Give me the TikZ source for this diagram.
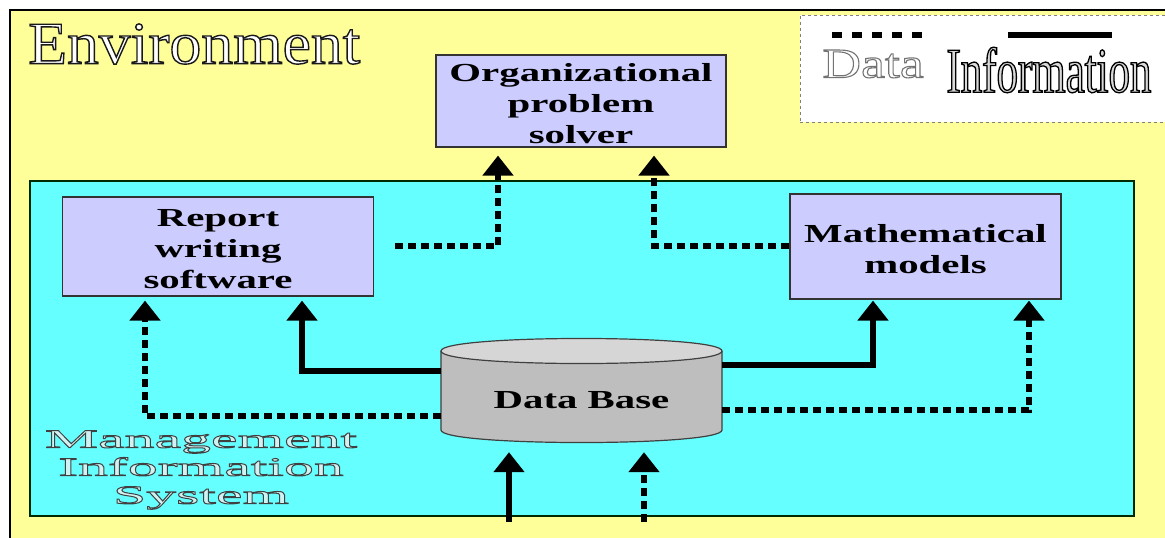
\documentclass[tikz,border=0pt]{standalone}
\usepackage{fontspec}
\usetikzlibrary{arrows.meta}
\setmainfont{Liberation Serif}
\newfontfamily\boxfont[FakeStretch=1.57]{Liberation Serif}
\newfontfamily\envfont[FakeStretch=1.06]{Liberation Serif}
\newfontfamily\misfont[FakeStretch=2.3]{Liberation Serif}
\newfontfamily\datafont[FakeStretch=1.28]{Liberation Serif}
\newfontfamily\infofont[FakeStretch=0.67]{Liberation Serif}
\definecolor{envyellow}{HTML}{FFFF99}
\definecolor{miscyan}{HTML}{66FFFF}
\definecolor{boxlav}{HTML}{CCCCFF}
\definecolor{dbgray}{HTML}{BEBEBE}
\definecolor{dbtop}{HTML}{D6D6D6}
% outlined text: #1 stroke width, #2 stroke rgb, #3 fill rgb, #4 text
\newcommand{\outlinetxt}[4]{\special{pdf:literal direct 2 Tr #1 w #2 RG #3 rg}#4\special{pdf:literal direct 0 Tr 0 0 0 RG 0 0 0 rg}}
\tikzset{
  procbox/.style={draw=black!80, fill=boxlav, line width=1.2pt, inner sep=0pt},
  boxtext/.style={align=center, inner sep=0pt,
    font=\boxfont\bfseries\fontsize{26}{31}\selectfont},
  dataflow/.style={line width=6pt, dash pattern=on 8pt off 5pt,
    -{Triangle[length=20pt,width=30pt]}},
  infoflow/.style={line width=6pt, -{Triangle[length=20pt,width=30pt]}},
}
\begin{document}
\begin{tikzpicture}[x=1pt,y=-1pt]
\useasboundingbox (0,0) rectangle (1165,538);
\begin{scope}
\clip (0,0) rectangle (1165,538);
% environment
\draw[fill=envyellow, line width=1.5pt] (10,10) rectangle (1175,548);
% MIS box
\draw[fill=miscyan, draw=black!60!green!40!black, line width=1.5pt] (30,181) rectangle (1134,516);
% legend
\node (legend) [draw=gray, dashed, fill=white, line width=0.8pt, minimum width=372pt, minimum height=107pt, anchor=north west, inner sep=0pt] at (800,15) {};
\end{scope}

\node (env) [anchor=west, inner sep=0pt] at (28,44)
  {\envfont\fontsize{60}{60}\selectfont\outlinetxt{1.4}{0.1 0.1 0.1}{1 1 1}{Environment}};

\coordinate (ld1) at (832,35);
\coordinate (ld2) at (925,35);
\coordinate (li1) at (1008,35);
\coordinate (li2) at (1112,35);
\draw[line width=6pt, dash pattern=on 10pt off 10pt] (ld1) -- (ld2);
\draw[line width=6pt] (li1) -- (li2);
\node (datalbl) [inner sep=0pt] at (873,64)
  {\datafont\fontsize{42}{42}\selectfont\outlinetxt{1.1}{0.45 0.45 0.45}{1 1 1}{Data}};
\node (infolbl) [inner sep=0pt] at (1049,70)
  {\infofont\fontsize{64}{64}\selectfont\outlinetxt{1.3}{0 0 0}{0.85 0.85 0.85}{Information}};

% boxes
\node (org) [procbox, minimum width=290pt, minimum height=92pt] at (581,101) {};
\node (orgtxt) [boxtext] at (581,104) {Organizational\\problem\\solver};
\node (rep) [procbox, minimum width=311pt, minimum height=99pt] at (218,246.5) {};
\node (reptxt) [boxtext] at (218,249.5) {Report\\writing\\software};
\node (math) [procbox, minimum width=271pt, minimum height=105pt] at (925.5,246.5) {};
\node (mathtxt) [boxtext] at (925.5,249) {Mathematical\\models};

% database
\fill[dbgray] (441,351) -- (441,430) .. controls (441,446.7) and (722,446.7) .. (722,430) -- (722,351) -- cycle;
\draw[line width=1.2pt, draw=black!75] (441,351) -- (441,430) .. controls (441,446.7) and (722,446.7) .. (722,430) -- (722,351);
\filldraw[fill=dbtop, draw=black!75, line width=1.2pt] (441,351) .. controls (441,334.3) and (722,334.3) .. (722,351) .. controls (722,367.7) and (441,367.7) .. (441,351) -- cycle;
\node (db) [minimum width=281pt, minimum height=79pt, inner sep=0pt] at (581.5,390.5) {};
\node (dblbl) [boxtext] at (581.5,400) {Data Base};

% MIS label
\node (mis) [align=center, inner sep=0pt, font=\misfont\fontsize{26}{28}\selectfont] at (201,470)
  {\outlinetxt{1}{0.25 0.25 0.25}{0.82 0.95 0.95}{Management}\\
   \outlinetxt{1}{0.25 0.25 0.25}{0.82 0.95 0.95}{Information}\\
   \outlinetxt{1}{0.25 0.25 0.25}{0.82 0.95 0.95}{System}};

% helper coordinates
\coordinate (ry) at (0,246);
\coordinate (s1) at (0,371);
\coordinate (d1) at (0,416);
\coordinate (s2) at (0,365);
\coordinate (d2) at (0,410);
\coordinate (repstart) at (395,246);
\coordinate (xa) at (498,0);
\coordinate (xb) at (654,0);
\coordinate (xc) at (302,0);
\coordinate (xd) at (145,0);
\coordinate (xe) at (873,0);
\coordinate (xf) at (1029,0);
\coordinate (in1) at (509,522);
\coordinate (in2) at (644,522);

% data flows to organizational problem solver
\draw[dataflow] (repstart) -| ([yshift=-8pt]xa |- org.south);
\draw[dataflow] (math.west |- ry) -| ([yshift=-8pt]xb |- org.south);
% from database
\draw[infoflow] (db.west |- s1) -| ([yshift=-4pt]xc |- rep.south);
\draw[dataflow] (db.west |- d1) -| ([yshift=-4pt]xd |- rep.south);
\draw[infoflow] (db.east |- s2) -| ([yshift=-1pt]xe |- math.south);
\draw[dataflow] (db.east |- d2) -| ([yshift=-1pt]xf |- math.south);
% inputs into database
\draw[infoflow] (in1) -- ([yshift=-22pt]in1 |- db.south);
\draw[dataflow] (in2) -- ([yshift=-22pt]in2 |- db.south);
\end{tikzpicture}
\end{document}
